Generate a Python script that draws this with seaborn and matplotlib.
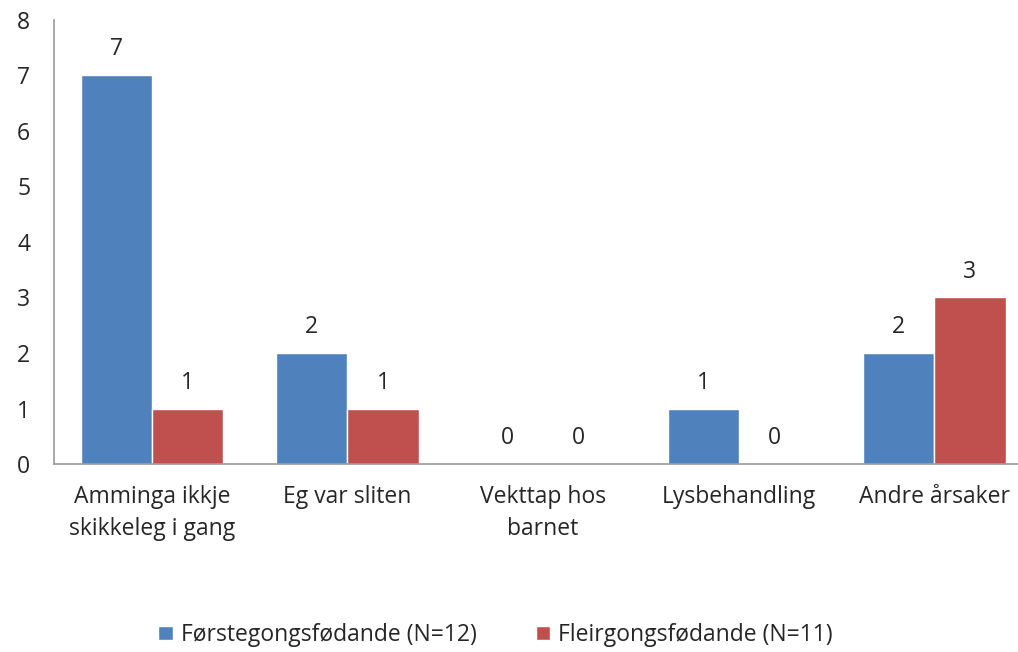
import pandas as pd
import numpy as np
import matplotlib
matplotlib.use("Agg")
import matplotlib.pyplot as plt
import seaborn as sns

# Data
categories = ["Amminga ikkje\nskikkeleg i gang", "Eg var sliten", "Vekttap hos\nbarnet",
              "Lysbehandling", "Andre årsaker"]
forstegongs = [7, 2, 0, 1, 2]
fleirgongs = [1, 1, 0, 0, 3]
series_names = ["Førstegongsfødande (N=12)", "Fleirgongsfødande (N=11)"]

df = pd.DataFrame({
    "kategori": categories * 2,
    "antal": forstegongs + fleirgongs,
    "gruppe": [series_names[0]] * 5 + [series_names[1]] * 5,
})

sns.set_style("white")
plt.rcParams["font.family"] = ["Open Sans", "DejaVu Sans"]

fig = plt.figure(figsize=(10.18, 6.52), dpi=100)
ax = fig.add_axes([0.053, 0.288, 0.961, 0.682])

sns.barplot(data=df, x="kategori", y="antal", hue="gruppe",
            palette=["#4F81BD", "#C0504D"], width=0.727, saturation=1,
            ax=ax, legend=True)

for c in ax.containers:
    ax.bar_label(c, padding=10, fontsize=16.5)

ax.set_ylim(0, 8)
ax.set_yticks(range(0, 9))
ax.set_xlabel("")
ax.set_ylabel("")
ax.tick_params(axis="both", length=0, labelsize=16.5)
ax.tick_params(axis="x", pad=15)
ax.tick_params(axis="y", pad=17)
for lab in ax.get_xticklabels():
    lab.set_linespacing(1.45)

for s in ["top", "right"]:
    ax.spines[s].set_visible(False)
for s in ["left", "bottom"]:
    ax.spines[s].set_color("#999999")
    ax.spines[s].set_linewidth(1.2)

handles, labels = ax.get_legend_handles_labels()
ax.get_legend().remove()
fig.legend(handles, labels, loc="center", bbox_to_anchor=(0.487, 0.026), ncol=2,
           frameon=False, fontsize=16.5, handlelength=0.62, handleheight=0.62,
           handletextpad=0.35, columnspacing=2.6)

fig.savefig("out.png", dpi=100)
